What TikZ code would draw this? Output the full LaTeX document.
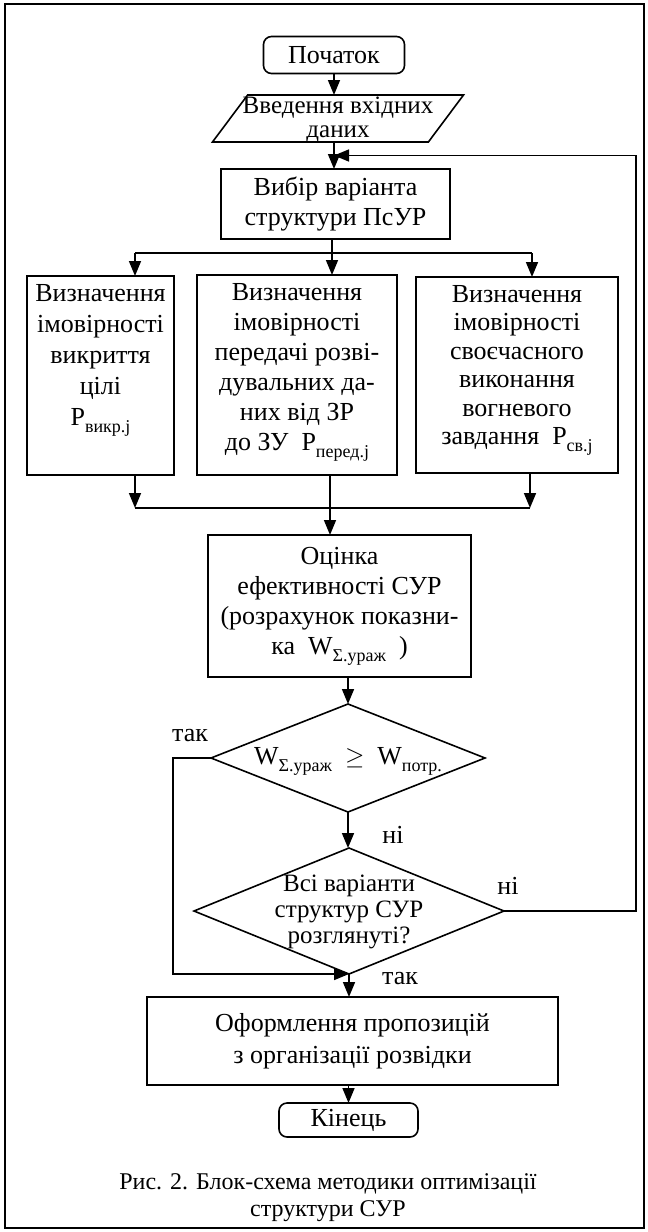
\documentclass[tikz,border=0pt]{standalone}
\usepackage{fontspec}
\setmainfont{Liberation Serif}
\usetikzlibrary{shapes.geometric,arrows.meta,calc}

\newcommand{\lowsub}[1]{\raisebox{-7pt}{\fontsize{18}{18}\selectfont #1}}
\newcommand{\flatbox}[1]{\makebox[0pt]{\raisebox{-8pt}[0pt][0pt]{\begin{tabular}{@{}c@{}}#1\end{tabular}}}}
\newcommand{\toptext}[3]{\parbox[c][#2][t]{#1}{\centering\vspace*{8pt}#3}}

\begin{document}
\begin{tikzpicture}[x=1pt,y=-1pt,inner sep=0pt,outer sep=0pt,line width=1.6pt,
>={Triangle[length=15pt,width=12pt]},
every node/.style={font=\fontsize{26}{30}\selectfont},
termbox/.style={draw,rectangle,rounded corners=8pt,minimum width=141pt,minimum height=37pt},
iobox/.style={draw,trapezium,trapezium left angle=79,trapezium right angle=101,trapezium stretches=true,inner sep=2pt},
stepbox/.style={draw,rectangle,align=center},
decbox/.style={draw,diamond,inner sep=2pt}]

\useasboundingbox (0,0) rectangle (648,1232);
\draw[line width=2pt] (5,4) rectangle (644,1228);

\draw (334,55) node[termbox] (start) {Початок};
\draw (338,118.5) node[iobox,minimum width=251pt,minimum height=47pt,font=\fontsize{25}{24}\selectfont] (inp) {\flatbox{Введення вхідних\\даних}};
\draw (335.5,204) node[stepbox,minimum width=229pt,minimum height=70pt] (choose) {Вибір варіанта\\структури ПсУР};

\draw (100.5,375.5) node[draw,font=\fontsize{26}{31}\selectfont] (left) {\toptext{147pt}{199pt}{Визначення\\ імовірності\\ викриття\\ цілі\\ P\lowsub{викр.j}}};
\draw (297,375) node[draw,font=\fontsize{26}{30}\selectfont] (mid) {\toptext{200pt}{200pt}{Визначення\\ імовірності\\ передачі розві-\\ дувальних да-\\ них від ЗР\\ до ЗУ\enspace P\lowsub{перед.j}}};
\draw (517,375) node[draw,font=\fontsize{26}{28.5}\selectfont] (right) {\toptext{202pt}{196pt}{Визначення\\ імовірності\\ своєчасного\\ виконання\\ вогневого\\ завдання\enspace P\lowsub{св.j}}};

\draw (339.5,606) node[stepbox,minimum width=263pt,minimum height=142pt] (eval) {Оцінка\\ефективності СУР\\(розрахунок показни-\\ка\enspace W\lowsub{Σ.ураж}\enspace)};
\draw (348,758) node[decbox,minimum width=274pt,minimum height=108pt] (dec1) {\flatbox{W\lowsub{Σ.ураж}\enspace$\geq$\enspace W\lowsub{потр.}}};
\draw (349,911) node[decbox,minimum width=310pt,minimum height=126pt,font=\fontsize{25}{26}\selectfont] (dec2) {\flatbox{Всі варіанти\\структур СУР\\розглянуті?}};
\draw (352.5,1041) node[stepbox,minimum width=411pt,minimum height=88pt,font=\fontsize{26}{32}\selectfont] (final) {Оформлення пропозицій\\з організації розвідки};
\draw (348.5,1120) node[termbox,minimum width=139pt,minimum height=34pt] (end) {Кінець};

\draw (328,1198) node[align=center,font=\fontsize{24}{27}\selectfont] (caption) {Рис. 2. Блок-схема методики оптимізації\\структури СУР};

% branch and merge points
\coordinate (fb) at ($(start.south |- inp.south)!.5!(start.south |- choose.north)$);
\coordinate (br) at (332,253);
\coordinate (bl) at (135,253);
\coordinate (bright) at (532,253);
\coordinate (ml) at (135,508);
\coordinate (mm) at (330,508);
\coordinate (mr) at (530,508);
\coordinate (rt) at (636,0);

\draw[->] (start.south) -- (start.south |- inp.north);
\draw[->] (start.south |- inp.south) -- (start.south |- choose.north);
\draw[->] (br |- choose.south) -- (br |- mid.north);
\draw (bl) -- (bright);
\draw[->] (bl) -- (bl |- left.north);
\draw[->] (bright) -- (bright |- right.north);
\draw[->] (ml |- left.south) -- (ml);
\draw[->] (mr |- right.south) -- (mr);
\draw (ml) -- (mr);
\draw[->] (mm |- mid.south) -- (mm |- eval.north);
\draw[->] (dec1.north |- eval.south) -- (dec1.north);
\draw[->] (dec1.south) -- (dec1.south |- dec2.north);
\draw[->] (dec2.south) -- (dec2.south |- final.north);
\draw[->] (end.north |- final.south) -- (end.north);
\draw[->] (dec1.west) -- ++(-38,0) |- (dec2.south);
\draw[->] (dec2.east) -| (rt |- fb) -- (fb);

\node (yes1) at (190,736) {так};
\node (no1) at (393,835) {ні};
\node (no2) at (508,886) {ні};
\node (yes2) at (400,979) {так};
\end{tikzpicture}
\end{document}
